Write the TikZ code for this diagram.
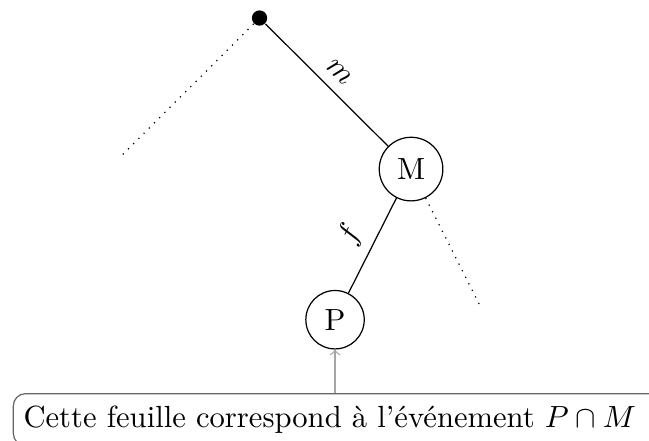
\documentclass[tikz,border=0pt]{standalone}
\usetikzlibrary{calc}

\tikzset{
  event/.style={draw,circle},
  leaf/.style={circle},
  rootdot/.style={circle,fill,inner sep=0pt,minimum size=5pt},
  note/.style={draw=black!60,rounded corners,anchor=north west,text width=210pt,align=left,minimum height=17pt}
}

\begin{document}
\begin{tikzpicture}
    \useasboundingbox (-2.981,-4.847) rectangle (4.473,0.207);

    \node[rootdot] (root) at (0,0) {};
    \node[event] (M) at (1.74,-1.735) {M};
    \node[leaf] (leafA) at (-1.74,-1.735) {};

    \node[event] (P) at (0.867,-3.465) {P};
    \node[leaf] (leafB) at (2.613,-3.465) {};

    \draw (root) -- node[above,sloped] {$m$} (M);
    \draw[dotted] (root) -- (leafA);
    \draw (M) -- node[above,sloped] {$f$} (P);
    \draw[dotted] (M) -- (leafB);

    \node[note] (note) at (-2.835,-4.307) {Cette feuille correspond à l'événement $P\cap M$};
    \draw[->,black!35] (note.north -| P) -- (P);
\end{tikzpicture}
\end{document}
